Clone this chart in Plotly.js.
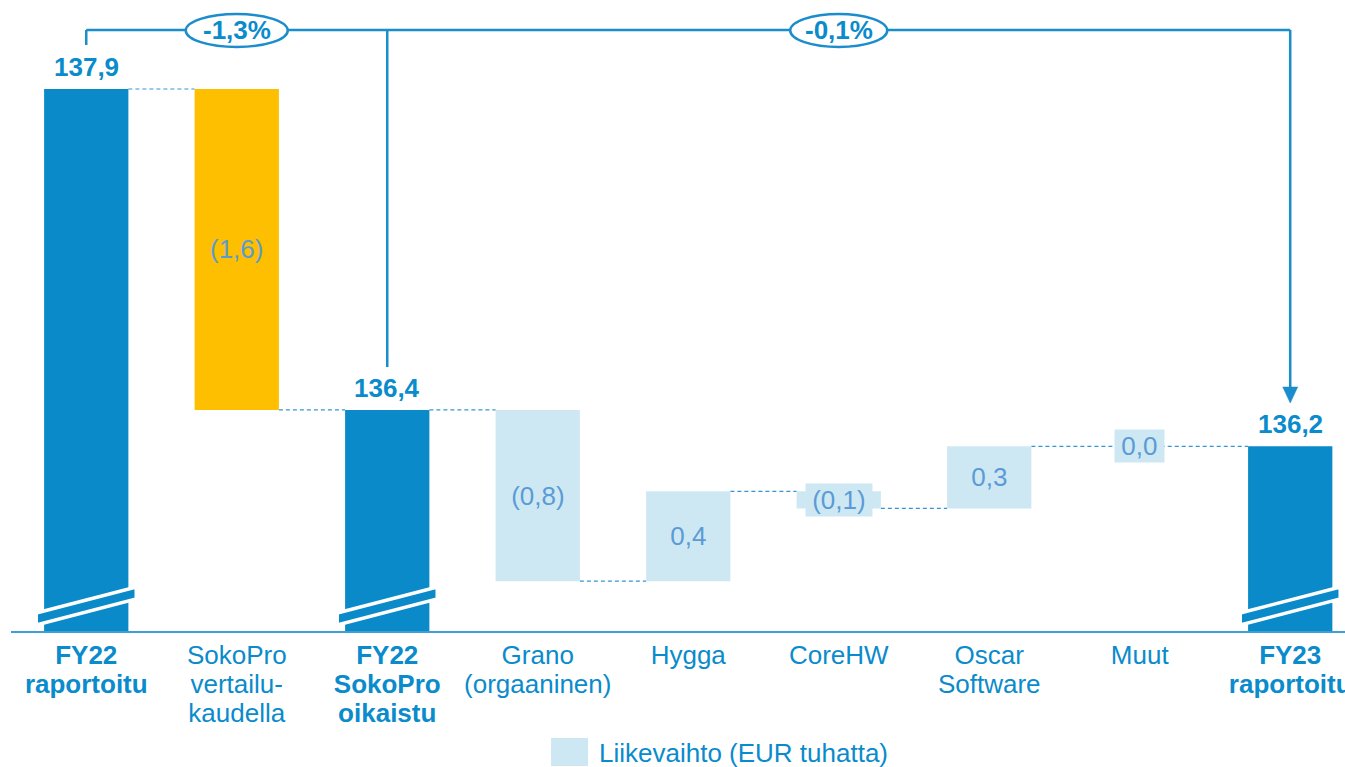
<!DOCTYPE html>
<html><head><meta charset="utf-8">
<script src="https://cdn.plot.ly/plotly-3.0.1.min.js"></script>
<style>html,body{margin:0;padding:0;background:#fff}#chart{width:1345px;height:767px}</style>
</head><body><div id="chart"></div>
<script>
// ---- data ----
const categoryLines = [
  ['FY22', 'raportoitu'],
  ['SokoPro', 'vertailu-', 'kaudella'],
  ['FY22', 'SokoPro', 'oikaistu'],
  ['Grano', '(orgaaninen)'],
  ['Hygga'],
  ['CoreHW'],
  ['Oscar', 'Software'],
  ['Muut'],
  ['FY23', 'raportoitu']
];
const barKinds = ['start', 'adjustment', 'subtotal', 'change', 'change', 'change', 'change', 'change', 'total'];
const values = [137.9, -1.5, null, -0.8, 0.42, -0.08, 0.29, 0.0, null];
const valueLabels = ['137,9', '(1,6)', '136,4', '(0,8)', '0,4', '(0,1)', '0,3', '0,0', '136,2'];
const growthLabels = ['-1,3%', '-0,1%'];
const growthFrom = [0, 2];
const growthTo = [2, 8];
const legendLabel = 'Liikevaihto (EUR tuhatta)';

// ---- style ----
const DARK = '#0a8ac8', YELLOW = '#fdbf00', LIGHT = '#cde8f3';
const TEXT = '#0a8bcb', DELTA = '#5b9bd5', LINE = '#1a8dcc', CONN = '#3496d2';
const FONT = 'Liberation Sans, Arial, sans-serif';
const Y_MIN = 135.367, Y_MAX = 138.316;
const BAR_W = 0.56;
const ML = 11, PW = 1334, PH = 631;
const py2paper = p => (PH - p) / PH;

// ---- compute waterfall ----
const n = values.length;
const bases = [], heights = [], colors = [], runAfter = [];
let run = 0;
for (let i = 0; i < n; i++) {
  const k = barKinds[i];
  if (k === 'start') { run = values[i]; bases.push(Y_MIN); heights.push(run - Y_MIN); colors.push(DARK); }
  else if (k === 'subtotal' || k === 'total') { bases.push(Y_MIN); heights.push(run - Y_MIN); colors.push(DARK); }
  else {
    const v = values[i];
    bases.push(Math.min(run, run + v)); heights.push(Math.abs(v));
    colors.push(k === 'adjustment' ? YELLOW : LIGHT);
    run += v;
  }
  runAfter.push(run);
}
const xs = values.map((_, i) => i);

const ticktext = categoryLines.map((lines, i) => {
  const bold = barKinds[i] === 'start' || barKinds[i] === 'subtotal' || barKinds[i] === 'total';
  return lines.map(l => '<span style="font-size:26px">' + (bold ? '<b>' + l + '</b>' : l) + '</span>').join('<br>');
});

const shapes = [];
const annotations = [];

// connectors (run through zero-height bars)
for (let i = 0; i < n - 1; i++) {
  const x0 = heights[i] === 0 ? i : i + BAR_W / 2;
  const x1 = heights[i + 1] === 0 ? i + 1 : i + 1 - BAR_W / 2;
  shapes.push({type: 'line', xref: 'x', yref: 'y', x0: x0, x1: x1,
    y0: runAfter[i], y1: runAfter[i], line: {color: CONN, width: 1.2, dash: '4px,3px'}, layer: 'below'});
}

// value labels
for (let i = 0; i < n; i++) {
  const k = barKinds[i];
  if (k === 'start' || k === 'subtotal' || k === 'total') {
    annotations.push({x: i, y: bases[i] + heights[i], xref: 'x', yref: 'y', text: '<b>' + valueLabels[i] + '</b>',
      showarrow: false, yanchor: 'middle', yshift: 22, font: {family: FONT, size: 26, color: TEXT}});
  } else {
    annotations.push({x: i, y: bases[i] + heights[i] / 2, xref: 'x', yref: 'y',
      text: k === 'change' ? '\u2009' + valueLabels[i] + '\u2009' : valueLabels[i],
      showarrow: false, yanchor: 'middle', font: {family: FONT, size: 26, color: DELTA},
      bgcolor: k === 'change' ? LIGHT : 'rgba(0,0,0,0)', borderpad: 1});
  }
}

// axis break marks
for (let i = 0; i < n; i++) {
  const k = barKinds[i];
  if (k === 'start' || k === 'subtotal' || k === 'total') {
    const hw = 50 / 150.5;
    const path = 'M ' + (i - hw) + ',' + py2paper(613) + ' L ' + (i + hw) + ',' + py2paper(587) +
      ' L ' + (i + hw) + ',' + py2paper(599) + ' L ' + (i - hw) + ',' + py2paper(625) + ' Z';
    shapes.push({type: 'path', xref: 'x', yref: 'paper', path: path, fillcolor: DARK,
      line: {color: '#ffffff', width: 3.5}, layer: 'above'});
  }
}

// growth brackets
const yTop = py2paper(30);
shapes.push({type: 'line', xref: 'x', yref: 'paper', x0: growthFrom[0], x1: growthTo[growthTo.length - 1], y0: yTop, y1: yTop, line: {color: LINE, width: 2.5}});
shapes.push({type: 'line', xref: 'x', yref: 'paper', x0: growthFrom[0], x1: growthFrom[0], y0: yTop, y1: py2paper(45), line: {color: LINE, width: 2.5}});
shapes.push({type: 'line', xref: 'x', yref: 'paper', x0: growthTo[0], x1: growthTo[0], y0: yTop, y1: py2paper(367), line: {color: LINE, width: 2.5}});
shapes.push({type: 'line', xref: 'x', yref: 'paper', x0: growthTo[1], x1: growthTo[1], y0: yTop, y1: py2paper(392), line: {color: LINE, width: 2.5}});
const ah = 7.5 / 150.5, tx = growthTo[1];
shapes.push({type: 'path', xref: 'x', yref: 'paper',
  path: 'M ' + (tx - ah) + ',' + py2paper(387) + ' L ' + (tx + ah) + ',' + py2paper(387) + ' L ' + tx + ',' + py2paper(403) + ' Z',
  fillcolor: LINE, line: {color: LINE, width: 0.5}});
for (let g = 0; g < growthLabels.length; g++) {
  const cx = (growthFrom[g] + growthTo[g]) / 2;
  const hw = (g === 0 ? 51 : 48.5) / 150.5;
  shapes.push({type: 'circle', xref: 'x', yref: 'paper', x0: cx - hw, x1: cx + hw, y0: py2paper(47), y1: py2paper(14),
    fillcolor: '#ffffff', line: {color: LINE, width: 2.5}});
  annotations.push({x: cx, y: yTop, xref: 'x', yref: 'paper', text: '<b>' + growthLabels[g] + '</b>', showarrow: false,
    yanchor: 'middle', font: {family: FONT, size: 26, color: TEXT}});
}

// legend
shapes.push({type: 'rect', xref: 'paper', yref: 'paper', x0: (551 - ML) / PW, x1: (588 - ML) / PW,
  y0: py2paper(766), y1: py2paper(738), fillcolor: LIGHT, line: {width: 0}});
annotations.push({xref: 'paper', yref: 'paper', x: (597 - ML) / PW, y: py2paper(753), xanchor: 'left', yanchor: 'middle',
  text: legendLabel, showarrow: false, font: {family: FONT, size: 26, color: TEXT}});

const trace = {type: 'bar', x: xs, y: heights, base: bases, width: BAR_W,
  marker: {color: colors, line: {width: 0}}, hoverinfo: 'none'};

const layout = {
  width: 1345, height: 767,
  margin: {l: ML, r: 0, t: 0, b: 767 - PH, pad: 0},
  paper_bgcolor: '#ffffff', plot_bgcolor: '#ffffff',
  showlegend: false,
  xaxis: {range: [-0.5, 8.364], tickvals: xs, ticktext: ticktext, showgrid: false, zeroline: false,
    showline: true, linecolor: '#3d9fd6', linewidth: 2, ticks: '', ticklabeloverflow: 'allow', ticklabelstandoff: 5,
    tickfont: {family: FONT, size: 22, color: TEXT}, automargin: false, fixedrange: true},
  yaxis: {range: [Y_MIN, Y_MAX], visible: false, fixedrange: true},
  shapes: shapes,
  annotations: annotations
};
Plotly.newPlot('chart', [trace], layout, {displayModeBar: false, staticPlot: true});
</script>
</body></html>
